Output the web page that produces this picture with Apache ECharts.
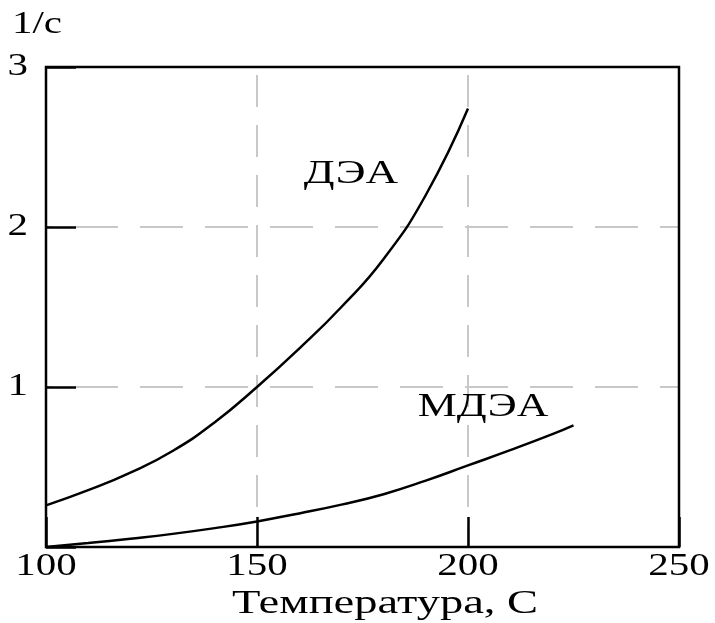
<!DOCTYPE html>
<html>
<head>
<meta charset="utf-8">
<script src="https://cdn.jsdelivr.net/npm/echarts@6/dist/echarts.min.js"></script>
<style>
html,body{margin:0;padding:0;background:#fff;}
#chart{width:715px;height:623px;}
</style>
</head>
<body>
<div id="chart"></div>
<script>
// ---- data ----
const xTicks = [100, 150, 200, 250];
const yTicks = [1, 2, 3];
const deaX = [100, 110, 120, 130, 140, 150, 160, 170, 180, 190, 200];
const deaY = [0.26, 0.355, 0.465, 0.60, 0.78, 1.00, 1.24, 1.50, 1.80, 2.20, 2.74];
const mdeaX = [100, 110, 120, 130, 140, 150, 160, 170, 180, 190, 200, 210, 220, 225];
const mdeaY = [0.0, 0.025, 0.052, 0.082, 0.118, 0.16, 0.21, 0.265, 0.33, 0.415, 0.51, 0.605, 0.705, 0.76];
const yUnit = '1/с';
const xTitle = 'Температура, С';
const seriesNames = ['ДЭА', 'МДЭА'];

const FONT = '"Liberation Serif", "Times New Roman", serif';
const chart = echarts.init(document.getElementById('chart'));

function pairs(xs, ys) { return xs.map((x, i) => [x, ys[i]]); }

chart.setOption({
  animation: false,
  backgroundColor: '#fff',
  grid: { left: 46, right: 36, top: 67, bottom: 76, show: true, borderColor: '#000', borderWidth: 2.5, z: 10, backgroundColor: 'transparent' },
  xAxis: {
    type: 'value', min: 100, max: 250, interval: 50,
    axisLine: { show: false },
    axisTick: { show: true, inside: true, length: 30, lineStyle: { color: '#000', width: 2.5 } },
    axisLabel: { show: false },
    splitLine: { show: true, lineStyle: { color: '#c8c8c8', width: 2, type: [32, 18], dashOffset: 42 } }
  },
  yAxis: {
    type: 'value', min: 0, max: 3, interval: 1,
    axisLine: { show: false },
    axisTick: { show: true, inside: true, length: 30, lineStyle: { color: '#000', width: 2.5 } },
    axisLabel: { show: false },
    splitLine: { show: true, lineStyle: { color: '#c8c8c8', width: 2, type: [43, 22], dashOffset: 36 } }
  },
  series: [
    { name: seriesNames[0], type: 'line', data: pairs(deaX, deaY), smooth: true, showSymbol: false, lineStyle: { color: '#000', width: 2.5 } },
    { name: seriesNames[1], type: 'line', data: pairs(mdeaX, mdeaY), smooth: true, showSymbol: false, lineStyle: { color: '#000', width: 2.5 } }
  ]
});

function txt(text, x, y, size, sx, align) {
  return {
    type: 'text', x: x, y: y, scaleX: sx, scaleY: 1, z: 100,
    style: { text: text, font: size + 'px ' + FONT, fill: '#000', textAlign: align || 'center', textVerticalAlign: 'middle' }
  };
}

const g = [];
xTicks.forEach(v => {
  const p = chart.convertToPixel({ gridIndex: 0 }, [v, 0]);
  g.push(txt(String(v), p[0], p[1] + 20, 32, 1.28, 'center'));
});
yTicks.forEach(v => {
  const p = chart.convertToPixel({ gridIndex: 0 }, [100, v]);
  g.push(txt(String(v), 28, p[1], 32, 1.28, 'right'));
});
g.push(txt(yUnit, 12, 25, 32, 1.28, 'left'));
g.push(txt(xTitle, 385, 604, 33, 1.41, 'center'));
g.push(txt(seriesNames[0], 351, 174, 34, 1.33, 'center'));
g.push(txt(seriesNames[1], 483, 407, 33, 1.33, 'center'));

chart.setOption({ graphic: g });
</script>
</body>
</html>
